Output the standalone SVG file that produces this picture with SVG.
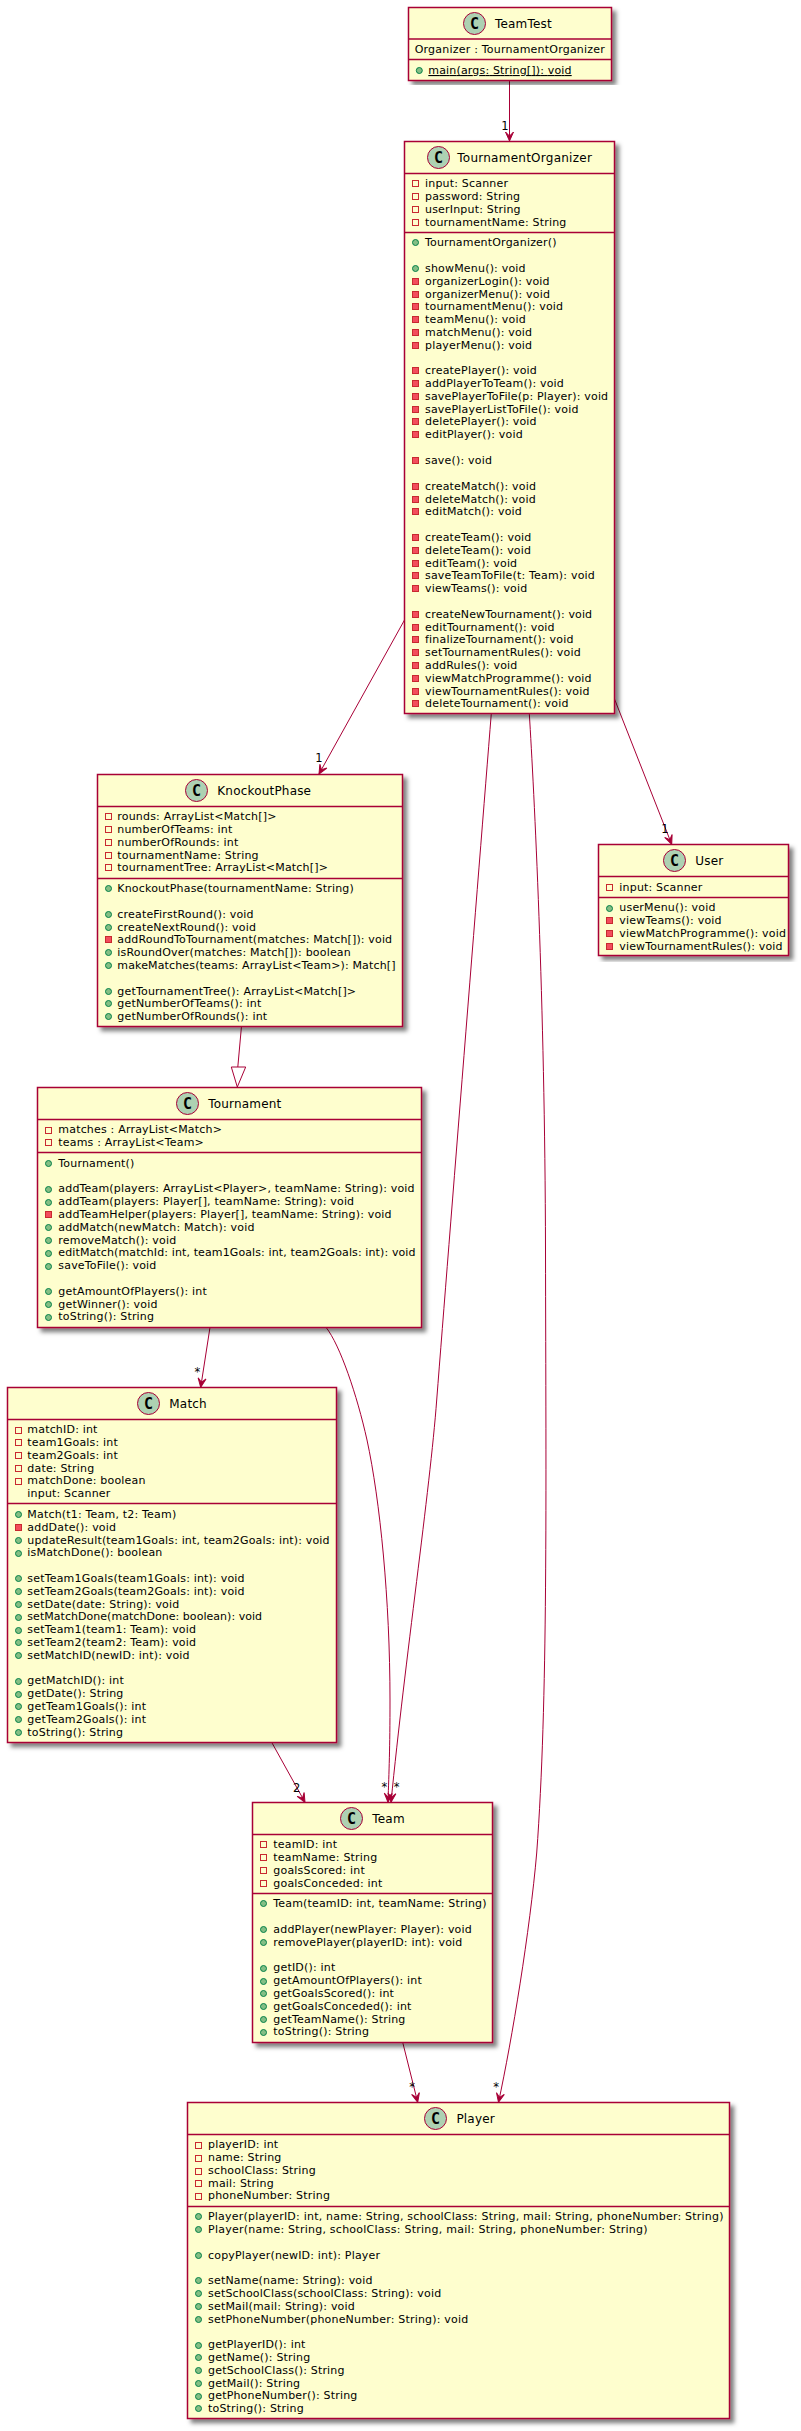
<svg xmlns="http://www.w3.org/2000/svg" width="801" height="2431" viewBox="0 0 801 2431">
<style>
text{font-family:"DejaVu Sans",sans-serif;font-size:11px;fill:#000;letter-spacing:.19px}
.t{font-size:12px}
.k{font-size:15px;font-weight:bold;text-anchor:middle;letter-spacing:0;font-family:"DejaVu Sans Mono","DejaVu Sans",monospace}
.l{font-size:11.5px;text-anchor:middle;letter-spacing:0}
.b{fill:#FEFECE;stroke:#A80036;stroke-width:1.5;filter:url(#s)}
.d{stroke:#A80036;stroke-width:1.5;fill:none}
.c{fill:#ADD1B2;stroke:#A80036;stroke-width:1}
.p{fill:#84BE84;stroke:#038048;stroke-width:1}
.m{fill:#F24D5C;stroke:#C82930;stroke-width:1}
.f{fill:none;stroke:#C82930;stroke-width:1}
.e{fill:none;stroke:#A80036;stroke-width:1}
.a{marker-end:url(#v)}
</style>
<defs>
<filter id="s" x="-5%" y="-5%" width="110%" height="110%"><feDropShadow dx="4" dy="4" stdDeviation="2" flood-color="#000" flood-opacity="0.5"/></filter>
<marker id="v" markerUnits="userSpaceOnUse" markerWidth="10" markerHeight="10" refX="9" refY="4" orient="auto" overflow="visible"><polygon points="9,4 0,0 4,4 0,8" fill="#A80036" stroke="#A80036" stroke-width="1"/></marker>
</defs>

<g id="connectors">
<path class="e a" d="M509.5,80 L509.5,141"/>
<text class="l" x="505" y="130">1</text>
<path class="e a" d="M404.5,620 L319,774"/>
<text class="l" x="319" y="762">1</text>
<path class="e a" d="M614.5,699 L671.7,844.3"/>
<text class="l" x="665" y="833">1</text>
<path class="e" d="M241.5,1026 L237.8,1067"/>
<polygon class="e" points="237.3,1087 231.3,1067 245.7,1067"/>
<path class="e a" d="M210,1327.3 L200.7,1387.3"/>
<text class="l" x="197.3" y="1376">*</text>
<path class="e a" d="M271.7,1742.3 L305,1802.3"/>
<text class="l" x="296.7" y="1792">2</text>
<path class="e a" d="M326,1327.3 C340,1345 357,1395 367,1440 C380,1500 390,1600 390,1700 C390,1750 389,1770 388,1802.3"/>
<text class="l" x="384.3" y="1791">*</text>
<path class="e a" d="M491.3,713.5 C478,880 450,1230 436.7,1400 C430,1490 405,1660 391,1802.3"/>
<text class="l" x="396.7" y="1791">*</text>
<path class="e a" d="M529.3,713.5 C534,790 545,1000 545.5,1250 C546,1500 548,1700 536.7,1853 C530,1930 512,2040 498.5,2102.3"/>
<text class="l" x="496" y="2091">*</text>
<path class="e a" d="M402.7,2042.3 L417.7,2102.3"/>
<text class="l" x="412" y="2091">*</text>
</g>

<g id="TeamTest">
<rect class="b" x="408.5" y="7.5" width="203" height="73"/>
<path class="d" d="M408.5,39H611.5M408.5,59.5H611.5"/>
<circle class="c" cx="474.5" cy="23.5" r="11"/><text class="k" x="474.5" y="28.5">C</text>
<text class="t" x="495" y="28">TeamTest</text>
<text x="414.7" y="53" textLength="190.3">Organizer : TournamentOrganizer</text>
<circle class="p" cx="419.3" cy="70.5" r="3"/>
<text x="428.3" y="74" text-decoration="underline" textLength="143.4">main(args: String[]): void</text>
</g>

<g id="TournamentOrganizer">
<rect class="b" x="404.5" y="141.5" width="210" height="572"/>
<path class="d" d="M404.5,173.5H614.5M404.5,232.5H614.5"/>
<circle class="c" cx="438.5" cy="157.5" r="11"/><text class="k" x="438.5" y="162.5">C</text>
<text class="t" x="457.3" y="162" textLength="134.7">TournamentOrganizer</text>
<rect class="f" x="412.5" y="180.5" width="6" height="6"/><text x="425" y="187">input: Scanner</text>
<rect class="f" x="412.5" y="193.5" width="6" height="6"/><text x="425" y="200">password: String</text>
<rect class="f" x="412.5" y="206.5" width="6" height="6"/><text x="425" y="213">userInput: String</text>
<rect class="f" x="412.5" y="219.5" width="6" height="6"/><text x="425" y="226">tournamentName: String</text>
<circle class="p" cx="415.5" cy="242.5" r="3"/><text x="425" y="246">TournamentOrganizer()</text>
<circle class="p" cx="415.5" cy="268.5" r="3"/><text x="425" y="272">showMenu(): void</text>
<rect class="m" x="412.5" y="278.5" width="6" height="6"/><text x="425" y="285">organizerLogin(): void</text>
<rect class="m" x="412.5" y="291.5" width="6" height="6"/><text x="425" y="298">organizerMenu(): void</text>
<rect class="m" x="412.5" y="303.5" width="6" height="6"/><text x="425" y="310">tournamentMenu(): void</text>
<rect class="m" x="412.5" y="316.5" width="6" height="6"/><text x="425" y="323">teamMenu(): void</text>
<rect class="m" x="412.5" y="329.5" width="6" height="6"/><text x="425" y="336">matchMenu(): void</text>
<rect class="m" x="412.5" y="342.5" width="6" height="6"/><text x="425" y="349">playerMenu(): void</text>
<rect class="m" x="412.5" y="367.5" width="6" height="6"/><text x="425" y="374">createPlayer(): void</text>
<rect class="m" x="412.5" y="380.5" width="6" height="6"/><text x="425" y="387">addPlayerToTeam(): void</text>
<rect class="m" x="412.5" y="393.5" width="6" height="6"/><text x="425" y="400" textLength="183.3">savePlayerToFile(p: Player): void</text>
<rect class="m" x="412.5" y="406.5" width="6" height="6"/><text x="425" y="413">savePlayerListToFile(): void</text>
<rect class="m" x="412.5" y="418.5" width="6" height="6"/><text x="425" y="425">deletePlayer(): void</text>
<rect class="m" x="412.5" y="431.5" width="6" height="6"/><text x="425" y="438">editPlayer(): void</text>
<rect class="m" x="412.5" y="457.5" width="6" height="6"/><text x="425" y="464">save(): void</text>
<rect class="m" x="412.5" y="483.5" width="6" height="6"/><text x="425" y="490">createMatch(): void</text>
<rect class="m" x="412.5" y="496.5" width="6" height="6"/><text x="425" y="503">deleteMatch(): void</text>
<rect class="m" x="412.5" y="508.5" width="6" height="6"/><text x="425" y="515">editMatch(): void</text>
<rect class="m" x="412.5" y="534.5" width="6" height="6"/><text x="425" y="541">createTeam(): void</text>
<rect class="m" x="412.5" y="547.5" width="6" height="6"/><text x="425" y="554">deleteTeam(): void</text>
<rect class="m" x="412.5" y="560.5" width="6" height="6"/><text x="425" y="567">editTeam(): void</text>
<rect class="m" x="412.5" y="572.5" width="6" height="6"/><text x="425" y="579">saveTeamToFile(t: Team): void</text>
<rect class="m" x="412.5" y="585.5" width="6" height="6"/><text x="425" y="592">viewTeams(): void</text>
<rect class="m" x="412.5" y="611.5" width="6" height="6"/><text x="425" y="618" textLength="167.3">createNewTournament(): void</text>
<rect class="m" x="412.5" y="624.5" width="6" height="6"/><text x="425" y="631">editTournament(): void</text>
<rect class="m" x="412.5" y="636.5" width="6" height="6"/><text x="425" y="643">finalizeTournament(): void</text>
<rect class="m" x="412.5" y="649.5" width="6" height="6"/><text x="425" y="656">setTournamentRules(): void</text>
<rect class="m" x="412.5" y="662.5" width="6" height="6"/><text x="425" y="669">addRules(): void</text>
<rect class="m" x="412.5" y="675.5" width="6" height="6"/><text x="425" y="682">viewMatchProgramme(): void</text>
<rect class="m" x="412.5" y="688.5" width="6" height="6"/><text x="425" y="695">viewTournamentRules(): void</text>
<rect class="m" x="412.5" y="700.5" width="6" height="6"/><text x="425" y="707">deleteTournament(): void</text>
</g>

<g id="KnockoutPhase">
<rect class="b" x="97.5" y="774.5" width="305" height="252"/>
<path class="d" d="M97.5,806.5H402.5M97.5,878.5H402.5"/>
<circle class="c" cx="196.5" cy="790.5" r="11"/><text class="k" x="196.5" y="795.5">C</text>
<text class="t" x="217.3" y="795">KnockoutPhase</text>
<rect class="f" x="105.5" y="813.5" width="6" height="6"/><text x="117.3" y="820">rounds: ArrayList&lt;Match[]&gt;</text>
<rect class="f" x="105.5" y="826.5" width="6" height="6"/><text x="117.3" y="833">numberOfTeams: int</text>
<rect class="f" x="105.5" y="839.5" width="6" height="6"/><text x="117.3" y="846">numberOfRounds: int</text>
<rect class="f" x="105.5" y="852.5" width="6" height="6"/><text x="117.3" y="859">tournamentName: String</text>
<rect class="f" x="105.5" y="864.5" width="6" height="6"/><text x="117.3" y="871">tournamentTree: ArrayList&lt;Match[]&gt;</text>
<circle class="p" cx="108.5" cy="888.5" r="3"/><text x="117.3" y="892">KnockoutPhase(tournamentName: String)</text>
<circle class="p" cx="108.5" cy="914.5" r="3"/><text x="117.3" y="918">createFirstRound(): void</text>
<circle class="p" cx="108.5" cy="927.5" r="3"/><text x="117.3" y="931">createNextRound(): void</text>
<rect class="m" x="105.5" y="936.5" width="6" height="6"/><text x="117.3" y="943" textLength="275">addRoundToTournament(matches: Match[]): void</text>
<circle class="p" cx="108.5" cy="952.5" r="3"/><text x="117.3" y="956">isRoundOver(matches: Match[]): boolean</text>
<circle class="p" cx="108.5" cy="965.5" r="3"/><text x="117.3" y="969" textLength="278.4">makeMatches(teams: ArrayList&lt;Team&gt;): Match[]</text>
<circle class="p" cx="108.5" cy="991.5" r="3"/><text x="117.3" y="995">getTournamentTree(): ArrayList&lt;Match[]&gt;</text>
<circle class="p" cx="108.5" cy="1003.5" r="3"/><text x="117.3" y="1007">getNumberOfTeams(): int</text>
<circle class="p" cx="108.5" cy="1016.5" r="3"/><text x="117.3" y="1020">getNumberOfRounds(): int</text>
</g>

<g id="Tournament">
<rect class="b" x="37.5" y="1087.5" width="384" height="240"/>
<path class="d" d="M37.5,1119.5H421.5M37.5,1152.5H421.5"/>
<circle class="c" cx="187.5" cy="1103.5" r="11"/><text class="k" x="187.5" y="1108.5">C</text>
<text class="t" x="208.3" y="1108">Tournament</text>
<rect class="f" x="45.5" y="1127.5" width="6" height="6"/><text x="58.3" y="1133">matches : ArrayList&lt;Match&gt;</text>
<rect class="f" x="45.5" y="1139.5" width="6" height="6"/><text x="58.3" y="1146">teams : ArrayList&lt;Team&gt;</text>
<circle class="p" cx="48.5" cy="1163.5" r="3"/><text x="58.3" y="1167">Tournament()</text>
<circle class="p" cx="48.5" cy="1189.5" r="3"/><text x="58.3" y="1192" textLength="356.4">addTeam(players: ArrayList&lt;Player&gt;, teamName: String): void</text>
<circle class="p" cx="48.5" cy="1202.5" r="3"/><text x="58.3" y="1205" textLength="296">addTeam(players: Player[], teamName: String): void</text>
<rect class="m" x="45.5" y="1211.5" width="6" height="6"/><text x="58.3" y="1218" textLength="333.4">addTeamHelper(players: Player[], teamName: String): void</text>
<circle class="p" cx="48.5" cy="1227.5" r="3"/><text x="58.3" y="1231">addMatch(newMatch: Match): void</text>
<circle class="p" cx="48.5" cy="1240.5" r="3"/><text x="58.3" y="1244">removeMatch(): void</text>
<circle class="p" cx="48.5" cy="1253.5" r="3"/><text x="58.3" y="1256" textLength="357.4">editMatch(matchId: int, team1Goals: int, team2Goals: int): void</text>
<circle class="p" cx="48.5" cy="1266.5" r="3"/><text x="58.3" y="1269">saveToFile(): void</text>
<circle class="p" cx="48.5" cy="1291.5" r="3"/><text x="58.3" y="1295">getAmountOfPlayers(): int</text>
<circle class="p" cx="48.5" cy="1304.5" r="3"/><text x="58.3" y="1308">getWinner(): void</text>
<circle class="p" cx="48.5" cy="1317.5" r="3"/><text x="58.3" y="1320">toString(): String</text>
</g>

<g id="Match">
<rect class="b" x="7.5" y="1387.5" width="329" height="355"/>
<path class="d" d="M7.5,1419.5H336.5M7.5,1503.5H336.5"/>
<circle class="c" cx="148.5" cy="1403.5" r="11"/><text class="k" x="148.5" y="1408.5">C</text>
<text class="t" x="169.3" y="1408">Match</text>
<rect class="f" x="15.5" y="1427.5" width="6" height="6"/><text x="27.3" y="1433">matchID: int</text>
<rect class="f" x="15.5" y="1439.5" width="6" height="6"/><text x="27.3" y="1446">team1Goals: int</text>
<rect class="f" x="15.5" y="1452.5" width="6" height="6"/><text x="27.3" y="1459">team2Goals: int</text>
<rect class="f" x="15.5" y="1465.5" width="6" height="6"/><text x="27.3" y="1472">date: String</text>
<rect class="f" x="15.5" y="1478.5" width="6" height="6"/><text x="27.3" y="1484">matchDone: boolean</text>
<text x="27.3" y="1497">input: Scanner</text>
<circle class="p" cx="18.5" cy="1514.5" r="3"/><text x="27.3" y="1518">Match(t1: Team, t2: Team)</text>
<rect class="m" x="15.5" y="1524.5" width="6" height="6"/><text x="27.3" y="1531">addDate(): void</text>
<circle class="p" cx="18.5" cy="1540.5" r="3"/><text x="27.3" y="1544" textLength="302.4">updateResult(team1Goals: int, team2Goals: int): void</text>
<circle class="p" cx="18.5" cy="1553.5" r="3"/><text x="27.3" y="1556">isMatchDone(): boolean</text>
<circle class="p" cx="18.5" cy="1578.5" r="3"/><text x="27.3" y="1582">setTeam1Goals(team1Goals: int): void</text>
<circle class="p" cx="18.5" cy="1591.5" r="3"/><text x="27.3" y="1595">setTeam2Goals(team2Goals: int): void</text>
<circle class="p" cx="18.5" cy="1604.5" r="3"/><text x="27.3" y="1608">setDate(date: String): void</text>
<circle class="p" cx="18.5" cy="1617.5" r="3"/><text x="27.3" y="1620" textLength="235">setMatchDone(matchDone: boolean): void</text>
<circle class="p" cx="18.5" cy="1630.5" r="3"/><text x="27.3" y="1633">setTeam1(team1: Team): void</text>
<circle class="p" cx="18.5" cy="1642.5" r="3"/><text x="27.3" y="1646">setTeam2(team2: Team): void</text>
<circle class="p" cx="18.5" cy="1655.5" r="3"/><text x="27.3" y="1659">setMatchID(newID: int): void</text>
<circle class="p" cx="18.5" cy="1681.5" r="3"/><text x="27.3" y="1684">getMatchID(): int</text>
<circle class="p" cx="18.5" cy="1694.5" r="3"/><text x="27.3" y="1697">getDate(): String</text>
<circle class="p" cx="18.5" cy="1706.5" r="3"/><text x="27.3" y="1710">getTeam1Goals(): int</text>
<circle class="p" cx="18.5" cy="1719.5" r="3"/><text x="27.3" y="1723">getTeam2Goals(): int</text>
<circle class="p" cx="18.5" cy="1732.5" r="3"/><text x="27.3" y="1736">toString(): String</text>
</g>

<g id="Team">
<rect class="b" x="252.5" y="1802.5" width="240" height="240"/>
<path class="d" d="M252.5,1834.5H492.5M252.5,1893.5H492.5"/>
<circle class="c" cx="351.5" cy="1818.5" r="11"/><text class="k" x="351.5" y="1823.5">C</text>
<text class="t" x="372.3" y="1823">Team</text>
<rect class="f" x="260.5" y="1841.5" width="6" height="6"/><text x="273.3" y="1848">teamID: int</text>
<rect class="f" x="260.5" y="1854.5" width="6" height="6"/><text x="273.3" y="1861">teamName: String</text>
<rect class="f" x="260.5" y="1867.5" width="6" height="6"/><text x="273.3" y="1874">goalsScored: int</text>
<rect class="f" x="260.5" y="1880.5" width="6" height="6"/><text x="273.3" y="1887">goalsConceded: int</text>
<circle class="p" cx="263.5" cy="1903.5" r="3"/><text x="273.3" y="1907" textLength="213.4">Team(teamID: int, teamName: String)</text>
<circle class="p" cx="263.5" cy="1929.5" r="3"/><text x="273.3" y="1933">addPlayer(newPlayer: Player): void</text>
<circle class="p" cx="263.5" cy="1942.5" r="3"/><text x="273.3" y="1946">removePlayer(playerID: int): void</text>
<circle class="p" cx="263.5" cy="1968.5" r="3"/><text x="273.3" y="1971">getID(): int</text>
<circle class="p" cx="263.5" cy="1981.5" r="3"/><text x="273.3" y="1984">getAmountOfPlayers(): int</text>
<circle class="p" cx="263.5" cy="1993.5" r="3"/><text x="273.3" y="1997">getGoalsScored(): int</text>
<circle class="p" cx="263.5" cy="2006.5" r="3"/><text x="273.3" y="2010">getGoalsConceded(): int</text>
<circle class="p" cx="263.5" cy="2019.5" r="3"/><text x="273.3" y="2023">getTeamName(): String</text>
<circle class="p" cx="263.5" cy="2032.5" r="3"/><text x="273.3" y="2035">toString(): String</text>
</g>

<g id="Player">
<rect class="b" x="187.5" y="2102.5" width="542" height="316"/>
<path class="d" d="M187.5,2134.5H729.5M187.5,2206.5H729.5"/>
<circle class="c" cx="435.5" cy="2118.5" r="11"/><text class="k" x="435.5" y="2123.5">C</text>
<text class="t" x="456.4" y="2123">Player</text>
<rect class="f" x="195.5" y="2142.5" width="6" height="6"/><text x="208" y="2148">playerID: int</text>
<rect class="f" x="195.5" y="2155.5" width="6" height="6"/><text x="208" y="2161">name: String</text>
<rect class="f" x="195.5" y="2168.5" width="6" height="6"/><text x="208" y="2174">schoolClass: String</text>
<rect class="f" x="195.5" y="2180.5" width="6" height="6"/><text x="208" y="2187">mail: String</text>
<rect class="f" x="195.5" y="2193.5" width="6" height="6"/><text x="208" y="2199">phoneNumber: String</text>
<circle class="p" cx="198.5" cy="2216.5" r="3"/><text x="208" y="2220" textLength="515.7">Player(playerID: int, name: String, schoolClass: String, mail: String, phoneNumber: String)</text>
<circle class="p" cx="198.5" cy="2229.5" r="3"/><text x="208" y="2233" textLength="439.8">Player(name: String, schoolClass: String, mail: String, phoneNumber: String)</text>
<circle class="p" cx="198.5" cy="2255.5" r="3"/><text x="208" y="2259">copyPlayer(newID: int): Player</text>
<circle class="p" cx="198.5" cy="2280.5" r="3"/><text x="208" y="2284">setName(name: String): void</text>
<circle class="p" cx="198.5" cy="2293.5" r="3"/><text x="208" y="2297">setSchoolClass(schoolClass: String): void</text>
<circle class="p" cx="198.5" cy="2306.5" r="3"/><text x="208" y="2310">setMail(mail: String): void</text>
<circle class="p" cx="198.5" cy="2319.5" r="3"/><text x="208" y="2323">setPhoneNumber(phoneNumber: String): void</text>
<circle class="p" cx="198.5" cy="2345.5" r="3"/><text x="208" y="2348">getPlayerID(): int</text>
<circle class="p" cx="198.5" cy="2357.5" r="3"/><text x="208" y="2361">getName(): String</text>
<circle class="p" cx="198.5" cy="2370.5" r="3"/><text x="208" y="2374">getSchoolClass(): String</text>
<circle class="p" cx="198.5" cy="2383.5" r="3"/><text x="208" y="2387">getMail(): String</text>
<circle class="p" cx="198.5" cy="2396.5" r="3"/><text x="208" y="2399">getPhoneNumber(): String</text>
<circle class="p" cx="198.5" cy="2408.5" r="3"/><text x="208" y="2412">toString(): String</text>
</g>

<g id="User">
<rect class="b" x="598.5" y="844.5" width="190" height="111"/>
<path class="d" d="M598.5,876.5H788.5M598.5,897.5H788.5"/>
<circle class="c" cx="674.5" cy="860.5" r="11"/><text class="k" x="674.5" y="865.5">C</text>
<text class="t" x="695.3" y="865">User</text>
<rect class="f" x="606.5" y="884.5" width="6" height="6"/><text x="619.3" y="891">input: Scanner</text>
<circle class="p" cx="609.5" cy="908.5" r="3"/><text x="619.3" y="911">userMenu(): void</text>
<rect class="m" x="606.5" y="917.5" width="6" height="6"/><text x="619.3" y="924">viewTeams(): void</text>
<rect class="m" x="606.5" y="930.5" width="6" height="6"/><text x="619.3" y="937">viewMatchProgramme(): void</text>
<rect class="m" x="606.5" y="943.5" width="6" height="6"/><text x="619.3" y="950" textLength="163.4">viewTournamentRules(): void</text>
</g>
</svg>
